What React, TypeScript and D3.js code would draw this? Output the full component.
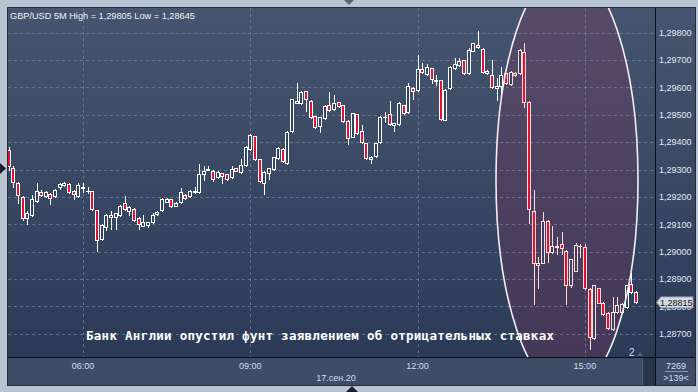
import React from 'react';
import * as d3 from 'd3';

const startTime = new Date(2020, 8, 17, 4, 40);
const slotCount = 139;
const opens = [1.29371,1.29304,1.2925,1.29201,1.29124,1.29134,1.29186,1.29217,1.29202,1.29209,1.29202,1.29235,1.29242,1.29247,1.29221,1.29204,1.29233,1.29221,1.29221,1.29152,1.29045,1.29091,1.29126,1.29126,1.29134,1.29177,1.2915,1.29155,1.29122,1.29095,1.29098,1.29109,1.29138,1.29152,1.29182,1.29191,1.29168,1.2918,1.29206,1.29202,1.29217,1.29219,1.29284,1.293,1.29295,1.29271,1.29286,1.29282,1.29271,1.29304,1.2929,1.29316,1.29375,1.29422,1.29338,1.2925,1.29286,1.29302,1.29341,1.29375,1.29323,1.2944,1.29544,1.29542,1.29585,1.2955,1.29495,1.2946,1.29487,1.29535,1.2952,1.29545,1.29535,1.29478,1.2942,1.29502,1.2944,1.29396,1.29337,1.2935,1.29399,1.29492,1.29502,1.29462,1.29466,1.29535,1.29509,1.29598,1.2959,1.29666,1.29648,1.29669,1.29624,1.29627,1.29481,1.29596,1.29669,1.29681,1.297,1.29651,1.29733,1.29754,1.29739,1.29659,1.29645,1.29596,1.29606,1.29651,1.29612,1.29653,1.29651,1.2973,1.29547,1.29148,1.2895,1.2896,1.29112,1.29,1.29018,1.29027,1.29004,1.28878,1.2893,1.29019,1.29018,1.28863,1.28684,1.28866,1.28814,1.28777,1.28717,1.28781,1.28781,1.28799,1.28882,1.28854];
const highs = [1.29382,1.29313,1.29254,1.29203,1.29148,1.29207,1.29252,1.29225,1.29221,1.29214,1.29229,1.29251,1.29253,1.29251,1.29225,1.2925,1.29251,1.29235,1.29223,1.29154,1.29101,1.29138,1.29148,1.29143,1.2917,1.29203,1.29167,1.29158,1.29125,1.29134,1.2911,1.29141,1.29148,1.29197,1.29196,1.29194,1.2918,1.29231,1.29209,1.29225,1.29237,1.2932,1.29313,1.29314,1.29298,1.29293,1.29289,1.29285,1.29313,1.29307,1.29337,1.29384,1.29428,1.29424,1.2934,1.29293,1.29307,1.29347,1.29382,1.29377,1.29439,1.29559,1.29615,1.29585,1.29588,1.29552,1.29497,1.29493,1.29534,1.29584,1.29572,1.29548,1.29537,1.29481,1.29508,1.29504,1.29462,1.29398,1.29349,1.29398,1.29495,1.29509,1.2955,1.29471,1.29546,1.29537,1.29615,1.29601,1.29718,1.29688,1.29685,1.29672,1.29645,1.29628,1.29592,1.29676,1.29706,1.29707,1.29701,1.29742,1.29763,1.29805,1.29742,1.29663,1.297,1.29635,1.29675,1.29654,1.29658,1.29656,1.2974,1.29761,1.2955,1.29225,1.28982,1.29146,1.29114,1.29094,1.29052,1.29073,1.29006,1.28975,1.2903,1.29028,1.29028,1.28866,1.2888,1.28869,1.28816,1.2878,1.28836,1.28836,1.28811,1.2888,1.28921,1.28856];
const lows = [1.29298,1.29236,1.29179,1.29116,1.291,1.2913,1.29181,1.29203,1.292,1.29174,1.292,1.29228,1.2924,1.29214,1.29192,1.29201,1.29219,1.29213,1.29152,1.29004,1.29043,1.29079,1.29082,1.29082,1.2913,1.29152,1.29134,1.29112,1.29084,1.29092,1.29091,1.29106,1.29134,1.29148,1.2918,1.29163,1.29165,1.29178,1.29192,1.292,1.29214,1.29216,1.29262,1.29298,1.29258,1.29269,1.2925,1.29262,1.29269,1.29293,1.29287,1.29313,1.29371,1.29335,1.29254,1.29209,1.29265,1.29298,1.29338,1.29327,1.2932,1.29437,1.29541,1.29539,1.29514,1.29488,1.29451,1.29438,1.29484,1.29513,1.29517,1.29528,1.29475,1.29392,1.29417,1.29431,1.29397,1.29338,1.29325,1.29347,1.29397,1.29474,1.29462,1.2944,1.29462,1.29502,1.29506,1.29557,1.29586,1.29652,1.29645,1.29615,1.29608,1.29482,1.29479,1.29594,1.29667,1.29678,1.2965,1.29648,1.29731,1.29743,1.29652,1.29648,1.29597,1.29554,1.29576,1.29612,1.29608,1.29641,1.29648,1.29529,1.29106,1.28809,1.28866,1.28957,1.28963,1.28997,1.2899,1.2899,1.28809,1.2887,1.28928,1.28982,1.28864,1.28645,1.28681,1.28811,1.28769,1.28718,1.28714,1.28778,1.28778,1.28796,1.28851,1.28813];
const closes = [1.29313,1.29255,1.29206,1.29122,1.2914,1.29191,1.29221,1.29206,1.29218,1.29195,1.29225,1.29246,1.2925,1.29217,1.29209,1.29243,1.29235,1.29223,1.29155,1.29043,1.29097,1.29134,1.29134,1.2914,1.29168,1.29155,1.29164,1.29115,1.291,1.29107,1.29107,1.29134,1.29146,1.29191,1.29193,1.29167,1.29177,1.29217,1.29195,1.29222,1.29222,1.29282,1.29295,1.29302,1.29264,1.2929,1.29276,1.29265,1.29302,1.29295,1.29316,1.29381,1.29425,1.29338,1.29258,1.2929,1.29304,1.29344,1.29379,1.29331,1.29436,1.29556,1.2955,1.29582,1.29556,1.2949,1.29454,1.2949,1.29532,1.29517,1.29544,1.29532,1.29478,1.29414,1.29505,1.29434,1.29399,1.29341,1.29347,1.29396,1.29493,1.29493,1.29466,1.29469,1.29544,1.29505,1.29605,1.29587,1.29667,1.29655,1.29673,1.2963,1.29627,1.29484,1.2959,1.29673,1.29684,1.29696,1.29653,1.29736,1.29761,1.29746,1.29655,1.29651,1.296,1.29605,1.29645,1.29615,1.29655,1.29645,1.29736,1.29547,1.29155,1.28958,1.28958,1.29112,1.29,1.29021,1.2902,1.29012,1.2888,1.28972,1.29024,1.29021,1.28866,1.2869,1.28878,1.28814,1.28772,1.2872,1.28781,1.28805,1.28809,1.28878,1.28854,1.28815];

const priceTicks = [1.298, 1.297, 1.296, 1.295, 1.294, 1.293, 1.292, 1.291, 1.29, 1.289, 1.288, 1.287];
const timeTickHours = [6, 9, 12, 15];
const dateLabel = '17.сен.20';
const headerText = 'GBP/USD 5M High = 1,29805 Low = 1,28645';
const lastPrice = 1.28815;
const annotation = 'Банк Англии опустил фунт заявлением об отрицательных ставках';
const totalBars = '7269';
const visibleBars = '>139<';
const markerLabel = '2';

const W = 698, H = 392;
const PL = 8, PT = 8, PR = 655, PB = 357;
const FR = 695, FB = 385;
const FONT = '"Liberation Sans", Arial, sans-serif';

const fmt = (v: number) => d3.format('.5f')(v).replace('.', ',');

export default function App() {
  const step = 5 * 60 * 1000;
  const x = d3.scaleTime()
    .domain([startTime, new Date(startTime.getTime() + slotCount * step)])
    .range([8.65, 8.65 + slotCount * 4.647]);
  const y = d3.scaleLinear().domain([1.287, 1.298]).range([333.9, 32.5]);

  const ell = { cx: 567, cy: 180, rx: 71, ry: 212 };
  const inEll = (px: number, py: number) =>
    ((px - ell.cx) / ell.rx) ** 2 + ((py - ell.cy) / ell.ry) ** 2 < 1;

  const candles = opens.map((o, i) => {
    const t = new Date(startTime.getTime() + i * step);
    return { t, o, h: highs[i], l: lows[i], c: closes[i] };
  });

  const timeTicks = timeTickHours.map(h => new Date(2020, 8, 17, h, 0));

  return (
    <svg width={W} height={H} style={{ position: 'absolute', left: 0, top: 0, display: 'block' }}>
      <defs>
        <linearGradient id="bg" x1="0" y1="0" x2="0" y2="1">
          <stop offset="0" stopColor="#46556f" />
          <stop offset="1" stopColor="#2b3a57" />
        </linearGradient>
        <clipPath id="plot"><rect x={PL} y={PT} width={PR - PL} height={PB - PT} /></clipPath>
      </defs>
      <rect x={0} y={0} width={W} height={H} fill="#b9c4d3" />
      <path d="M344,0 L354,0 L349,5 Z" fill="#5b6575" />
      <path d="M352,386 L358,392 L346,392 Z" fill="#1a1f2a" />
      <path d="M0,163 L6,168.5 L0,174 Z" fill="#1a1f2a" />
      <rect x={PL - 0.5} y={PT - 0.5} width={FR - PL + 1} height={FB - PT + 1} fill="#3d4b66" stroke="#232b3a" />
      <rect x={PL} y={PT} width={PR - PL} height={PB - PT} fill="url(#bg)" />
      <rect x={PR + 1} y={PT} width={FR - PR - 1} height={PB - PT} fill="url(#bg)" />
      <rect x={PL} y={PB + 1} width={PR - PL} height={FB - PB - 1} fill="#3d4c67" />
      <rect x={642} y={PB + 1} width={PR - 642} height={FB - PB - 1} fill="#29344d" />
      <line x1={642.5} x2={642.5} y1={PB + 1} y2={FB} stroke="#56637c" />

      <g clipPath="url(#plot)">
        <ellipse cx={ell.cx} cy={ell.cy} rx={ell.rx} ry={ell.ry} fill="rgb(120,52,92)" fillOpacity={0.32} />
        {priceTicks.map(p => (
          <line key={p} x1={PL} x2={PR} y1={Math.round(y(p)) + 0.5} y2={Math.round(y(p)) + 0.5}
            stroke="#7584a0" strokeOpacity={0.7} strokeDasharray="3,3" />
        ))}
        {timeTicks.map((t, k) => (
          <line key={k} x1={Math.round(x(t)) + 0.5} x2={Math.round(x(t)) + 0.5} y1={PT} y2={PB}
            stroke="#7584a0" strokeOpacity={0.7} strokeDasharray="3,3" />
        ))}
        {candles.map((d, i) => {
          const c = Math.round(x(d.t)) - 1;
          const top = Math.round(y(Math.max(d.o, d.c)));
          const bot = Math.round(y(Math.min(d.o, d.c)));
          const yh = Math.round(y(d.h));
          const yl = Math.round(y(d.l));
          const up = d.c >= d.o;
          const inside = inEll(c + 1, (top + bot) / 2);
          const stroke = inside ? '#ffd9d9' : '#ffffff';
          const wx = c + 1.5;
          return (
            <g key={i}>
              <line x1={wx} x2={wx} y1={yh} y2={yl + 1} stroke={stroke} />
              {bot - top < 1 ? (
                <line x1={c - 1} x2={c + 3} y1={top + 0.5} y2={top + 0.5} stroke={stroke} />
              ) : (
                <rect x={c - 0.5} y={top + 0.5} width={3} height={bot - top}
                  fill={up ? '#34435f' : '#e3112f'} stroke={stroke} />
              )}
            </g>
          );
        })}
        <ellipse cx={ell.cx} cy={ell.cy} rx={ell.rx} ry={ell.ry} fill="none" stroke="#f2eef2" strokeWidth={1.6} />
        <text x={86} y={340} fill="#ffffff" fontFamily='"DejaVu Sans Mono", monospace' fontWeight="bold" fontSize={12.5}
          textLength={468} lengthAdjust="spacing">{annotation}</text>
        <text x={629} y={356} fill="#c9daf0" fontFamily={FONT} fontSize={10}>{markerLabel}</text>
        <path d="M637,356 L640,352 L643,356 Z" fill="#56637a" />
      </g>

      <line x1={PR + 0.5} x2={PR + 0.5} y1={PT} y2={FB} stroke="#0b0e14" />
      <line x1={PL} x2={FR} y1={PB + 0.5} y2={PB + 0.5} stroke="#0b0e14" />

      {priceTicks.map(p => (
        <text key={p} x={659} y={y(p) + 3.3} fill="#e4e9f2" fontFamily={FONT} fontSize={9}>{fmt(p)}</text>
      ))}
      {(() => {
        const ly = y(lastPrice);
        return (
          <g>
            <path d={`M${656.5},${ly} L${661},${ly - 5.5} L${693},${ly - 5.5} L${693},${ly + 5.5} L${661},${ly + 5.5} Z`}
              fill="#d5dbe4" stroke="#8d97a8" />
            <text x={660} y={ly + 3.3} fill="#111" fontFamily={FONT} fontSize={9}>{fmt(lastPrice)}</text>
          </g>
        );
      })()}

      {timeTicks.map((t, k) => (
        <text key={k} x={x(t)} y={369} textAnchor="middle" fill="#d3def0" fontFamily={FONT} fontSize={9}>
          {d3.timeFormat('%H:%M')(t)}
        </text>
      ))}
      <text x={336} y={381} textAnchor="middle" fill="#d3def0" fontFamily={FONT} fontSize={9}>{dateLabel}</text>

      <text x={676} y={368.5} textAnchor="middle" fill="#d3def0" fontFamily={FONT} fontSize={9}>{totalBars}</text>
      <line x1={665} x2={688} y1={371.5} y2={371.5} stroke="#8793a8" />
      <text x={676} y={381} textAnchor="middle" fill="#d3def0" fontFamily={FONT} fontSize={9}>{visibleBars}</text>

      <text x={10} y={18.5} fill="#eef1f6" fontFamily={FONT} fontSize={9.2}>{headerText}</text>
    </svg>
  );
}
